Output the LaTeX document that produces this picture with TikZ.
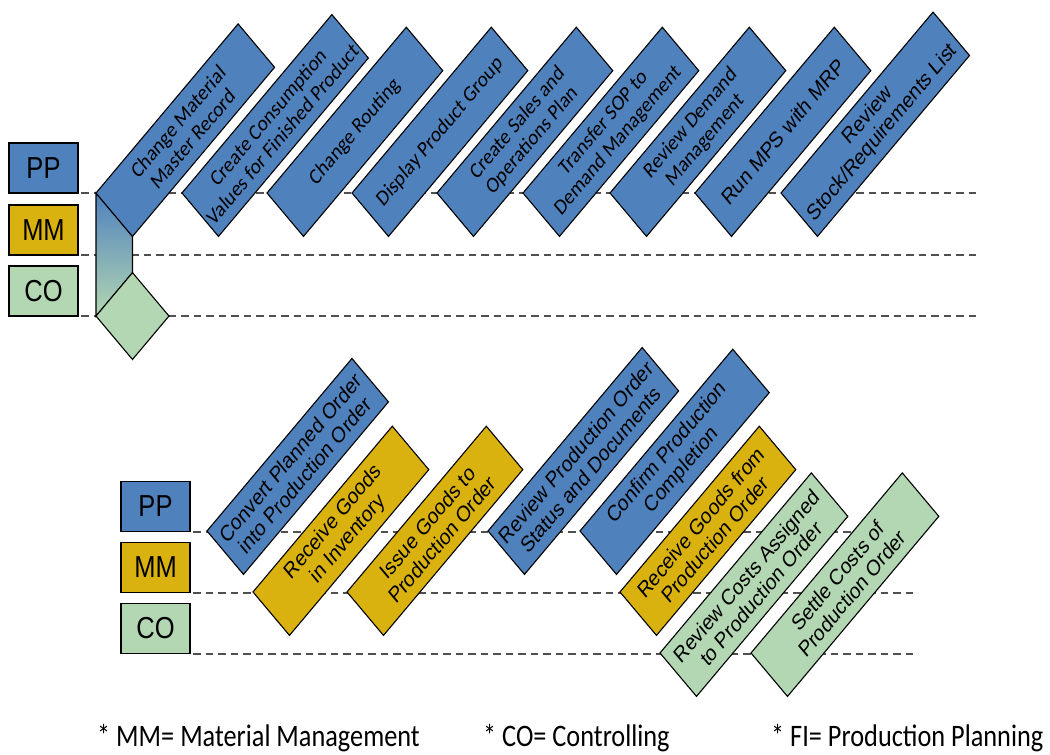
\documentclass[tikz,border=0pt]{standalone}
\usepackage{fontspec}
\setmainfont{Liberation Sans}
\newfontfamily\calibri{Carlito}
\usetikzlibrary{positioning}
\definecolor{PP_Blue}{HTML}{4F81BD}
\definecolor{MM_Gold}{HTML}{DAB210}
\definecolor{CO_Green}{HTML}{B3D7B2}
\definecolor{Lane_Gray}{HTML}{505050}

\tikzset{
  lanebox/.style={draw, line width=1.2pt, minimum width=69pt, minimum height=42pt, inner sep=0pt, outer sep=0pt, font=\fontsize{25.5}{27}\selectfont},
  laneline/.style={Lane_Gray, line width=2pt, dash pattern=on 7.5pt off 5pt},
  task/.style={draw, line width=1.1pt, rotate=45, anchor=north west, minimum width=#1, minimum height=51.6pt, inner sep=1pt, outer sep=0pt, align=center, font=\fontsize{18.7}{20.5}\selectfont},
  ctask/.style={task=#1, font=\calibri\fontsize{18.7}{20.5}\selectfont},
  ppfill/.style={fill=PP_Blue},
  mmfill/.style={fill=MM_Gold},
  cofill/.style={fill=CO_Green},
  footnote/.style={anchor=base west, inner sep=0pt, font=\calibri\fontsize{26.3}{28}\selectfont}
}

\begin{document}
\begin{tikzpicture}[x=1pt, y=-0.8403pt, yscale=1.19, transform shape]
    \useasboundingbox (0,0) rectangle (1050,755);
    \coordinate (topEnd) at (980,0);
    \coordinate (lowEnd) at (918,0);

    % Lane labels, first part
    \node[lanebox, ppfill] (ppTop) at (43.5,168) {PP};
    \node[lanebox, mmfill] (mmTop) at (43.5,230) {MM};
    \node[lanebox, cofill] (coTop) at (43.5,291) {CO};
    \foreach \lane in {ppTop, mmTop, coTop}
        \draw[laneline] ([xshift=3pt]\lane.south east) -- (\lane.south east -| topEnd);

    % Lane labels, second part
    \node[lanebox, ppfill] (ppLow) at (155.5,506.5) {PP};
    \node[lanebox, mmfill] (mmLow) at (155.5,567.5) {MM};
    \node[lanebox, cofill] (coLow) at (155.5,628.5) {CO};
    \foreach \lane in {ppLow, mmLow, coLow}
        \draw[laneline] ([xshift=3pt]\lane.south east) -- (\lane.south east -| lowEnd);

    % Hand-over band from PP down to CO
    \coordinate (bandNW) at (96,193);
    \coordinate (bandNE) at (132.5,236.4);
    \coordinate (bandSE) at (132.5,272.6);
    \coordinate (bandSW) at (96,316);
    \draw[line width=1.1pt, top color=PP_Blue, bottom color=CO_Green] (bandNW) -- (bandNE) -- (bandSE) -- (bandSW) -- cycle;

    % Start event
    \node[task=51.6pt, cofill] (start) at (bandSW) {};

    % Planning steps
    \node[ctask=201pt, ppfill] (ppA) at (bandNW) {Change Material\\Master Record};
    \node[ctask=212pt, ppfill] (ppB) at (182,193) {Create Consumption\\Values for Finished Product};
    \node[ctask=197pt, ppfill] (ppC) at (267,193) {Change Routing};
    \node[ctask=197pt, ppfill] (ppD) at (352,193) {Display Product Group};
    \node[ctask=197pt, ppfill] (ppE) at (437,193) {Create Sales and\\Operations Plan};
    \node[ctask=197pt, ppfill] (ppF) at (523,193) {Transfer SOP to\\Demand Management};
    \node[ctask=197pt, ppfill] (ppG) at (610,193) {Review Demand\\Management};
    \node[task=197pt, ppfill] (ppH) at (695,193) {Run MPS with MRP};
    \node[task=215pt, ppfill] (ppI) at (781,193) {Review\\Stock/Requirements List};

    % Production order steps
    \node[task=205pt, ppfill] (ordA) at (207,531) {Convert Planned Order\\into Production Order};
    \node[task=197pt, mmfill] (ordB) at (253,592) {Receive Goods\\in Inventory};
    \node[task=197pt, mmfill] (ordC) at (347,592) {Issue Goods to\\Production Order};
    \node[task=218pt, ppfill] (ordD) at (488,531) {Review Production Order\\Status and Documents};
    \node[task=216pt, ppfill] (ordE) at (580,531) {Confirm Production\\Completion};
    \node[task=197pt, mmfill] (ordF) at (620,592) {Receive Goods from\\Production Order};
    \node[task=214pt, cofill] (ordG) at (660,653) {Review Costs Assigned\\to Production Order};
    \node[task=214pt, cofill] (ordH) at (751,653) {Settle Costs of\\Production Order};

    % Legend
    \node[footnote] (noteMM) at (97,747) {* MM= Material Management};
    \node[footnote] (noteCO) at (483,747) {* CO= Controlling};
    \node[footnote] (noteFI) at (771,747) {* FI= Production Planning};
\end{tikzpicture}
\end{document}
